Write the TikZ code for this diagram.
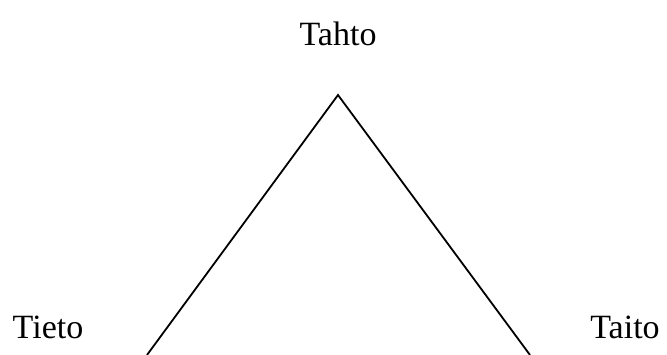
\documentclass[tikz,border=0pt]{standalone}
\usepackage{fontspec}
\setmainfont{Liberation Serif}
\begin{document}
\begin{tikzpicture}[x=1pt,y=-1pt,
  lbl/.style={font=\fontsize{34}{38}\selectfont, anchor=base, inner sep=0pt},
  edge/.style={line width=1.8pt, black}]
\useasboundingbox (0,0) rectangle (667,355);
\node[lbl] (tahto) at (338,46) {Tahto};
\node[lbl] (tieto) at (48,339) {Tieto};
\node[lbl] (taito) at (625,339) {Taito};
\coordinate (apex) at (338,95);
\coordinate (bl) at (147,355);
\coordinate (br) at (530,355);
\draw[edge] (bl) -- (apex) -- (br);
\end{tikzpicture}
\end{document}
